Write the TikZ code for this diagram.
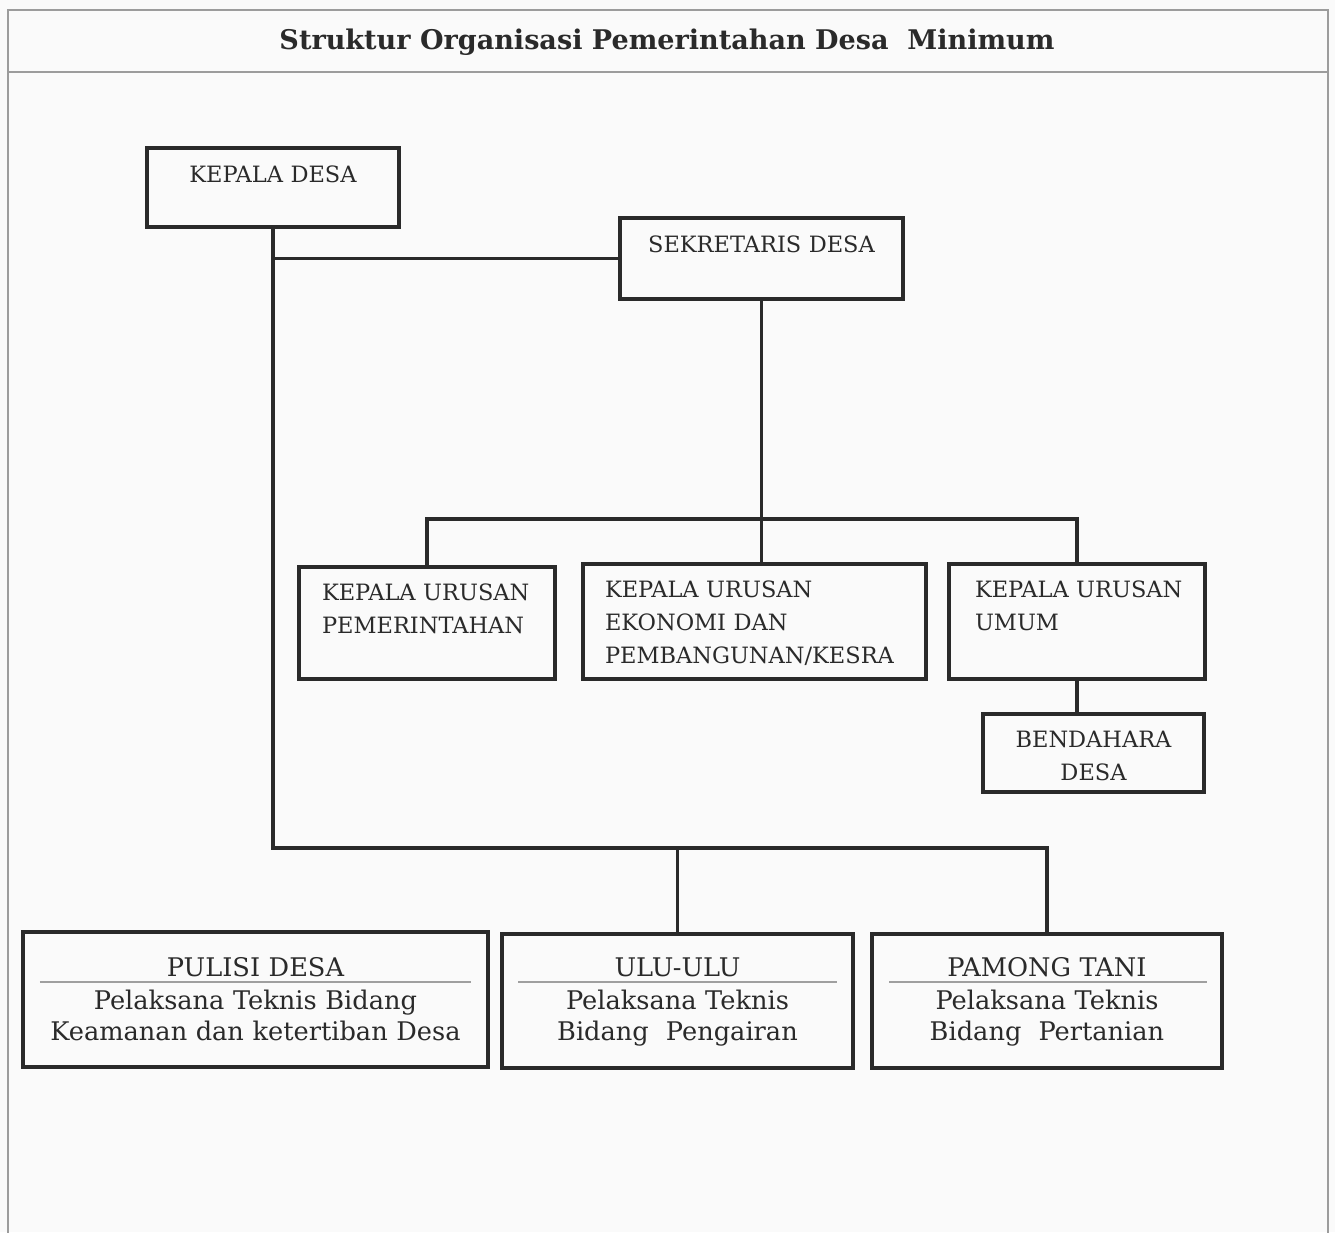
\documentclass[tikz,border=0pt]{standalone}
\usepackage{fontspec}
\setmainfont{DejaVu Serif}
\usetikzlibrary{calc}
\definecolor{tinta}{HTML}{2A2A2A}
\definecolor{bingkai}{HTML}{9C9C9C}
\definecolor{kertas}{HTML}{FAFAFA}
\hyphenpenalty=10000
\tikzset{
	jabatan/.style={draw=tinta, line width=2.3pt, inner sep=0pt, anchor=north west, text=tinta, font=\fontsize{12.8}{18.8}\selectfont},
	pelaksana/.style={jabatan, align=center, font=\fontsize{14.6}{17.6}\selectfont},
	garis/.style={draw=tinta, line width=2pt},
	pemisah/.style={draw=gray!75, line width=1.1pt},
}

\begin{document}
\begin{tikzpicture}[x=0.02cm, y=-0.02cm]
			%%%%% START %%%%%
			
			\fill[kertas] (0, 0) rectangle (1335, 1232);
			\useasboundingbox (0, 0) rectangle (1335, 1232);
			
			\draw[bingkai, line width=1.2pt] (8, 1240) -- (8, 10) -- (1328, 10) -- (1328, 1240);
			\draw[bingkai, line width=1.2pt] (8, 72) -- (1328, 72);
			\node[text=tinta, font=\bfseries\fontsize{15.4}{18}\selectfont] (judul) at (667, 42) {Struktur Organisasi Pemerintahan Desa~~Minimum};
			
			\node[jabatan, align=center, text width=5.04cm, text height=0.68cm, text depth=0.9cm] (kades) at (145, 146) {KEPALA DESA};
			\node[jabatan, align=center, text width=5.66cm, text height=0.68cm, text depth=0.94cm] (sekdes) at (618, 216) {SEKRETARIS DESA};
			
			\node[jabatan, align=left, inner xsep=0.46cm, text width=4.2cm, text height=0.66cm, text depth=1.58cm] (kaurpem) at (297, 565) {KEPALA URUSAN\\PEMERINTAHAN};
			\node[jabatan, align=left, inner xsep=0.44cm, text width=5.98cm, text height=0.66cm, text depth=1.64cm] (kaurek) at (581, 562) {KEPALA URUSAN\\EKONOMI DAN\\PEMBANGUNAN/KESRA};
			\node[jabatan, align=left, inner xsep=0.26cm, text width=4.6cm, text height=0.66cm, text depth=1.64cm] (kaurum) at (947, 562) {\hspace*{0.26cm}KEPALA URUSAN\\\hspace*{0.26cm}UMUM};
			\node[jabatan, align=center, text width=4.42cm, text height=0.66cm, text depth=0.9cm] (bendahara) at (981, 712) {BENDAHARA\\DESA};
			
			\node[pelaksana, text width=9.3cm, text height=0.88cm, text depth=1.82cm] (pulisi) at (21, 930) {PULISI DESA\\[1.7pt]Pelaksana Teknis Bidang\\Keamanan dan ketertiban Desa};
			\node[pelaksana, text width=7.02cm, text height=0.84cm, text depth=1.84cm] (ulu) at (500, 932) {ULU-ULU\\[1.7pt]Pelaksana Teknis\\Bidang~~Pengairan};
			\node[pelaksana, text width=7.0cm, text height=0.84cm, text depth=1.84cm] (pamong) at (870, 932) {PAMONG TANI\\[1.7pt]Pelaksana Teknis\\Bidang~~Pertanian};
			
			% garis pemisah di kotak bawah
			\draw[pemisah] ([xshift=0.38cm, yshift=-1.04cm]pulisi.north west) -- ([xshift=-0.38cm, yshift=-1.04cm]pulisi.north east);
			\draw[pemisah] ([xshift=0.36cm, yshift=-1.0cm]ulu.north west) -- ([xshift=-0.36cm, yshift=-1.0cm]ulu.north east);
			\draw[pemisah] ([xshift=0.38cm, yshift=-1.0cm]pamong.north west) -- ([xshift=-0.34cm, yshift=-1.0cm]pamong.north east);
			
			% garis komando
			\coordinate (simpulatas) at (760, 519);
			\coordinate (simpulbawah) at (kades.south |- 0, 848);
			
			\draw[garis] (sekdes.west) -| (kades.south);
			\draw[garis] (kades.south) -- (simpulbawah) -| (pamong.north);
			\draw[garis] (ulu.north) -- (ulu.north |- simpulbawah);
			\draw[garis] (sekdes.south) -- (sekdes.south |- kaurek.north);
			\draw[garis] (kaurpem.north) |- (simpulatas) -| (kaurum.north);
			\draw[garis] (kaurum.south) -- (kaurum.south |- bendahara.north);
			
			%%%%% END %%%%%
\end{tikzpicture}
\end{document}
